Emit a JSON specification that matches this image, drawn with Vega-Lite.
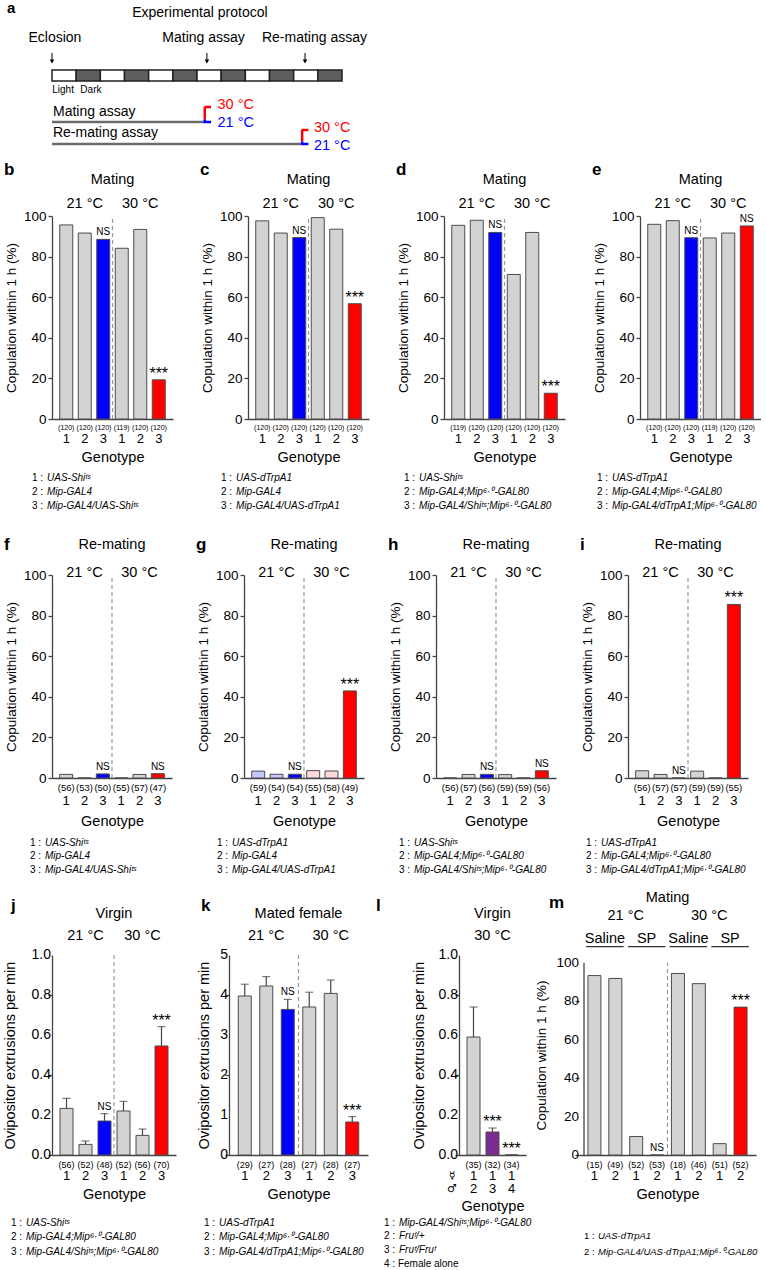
{
"$schema": "https://vega.github.io/schema/vega-lite/v6.json",
"background": "white",
"padding": {"left": 2, "top": 1, "right": 0, "bottom": 0},
"config": {
 "font": "Liberation Sans",
 "view": {"stroke": null},
 "axis": {"grid": false, "domainColor": "#444444", "tickColor": "#444444", "domainWidth": 1.3, "tickWidth": 1.3, "labelColor": "#000000", "titleColor": "#000000", "titleFontWeight": "normal", "labelFlush": false, "labelOverlap": false, "labelFont": "Liberation Sans", "titleFont": "Liberation Sans"},
 "axisX": {"ticks": false, "tickSize": 0, "labels": false, "titleFontSize": 14.5},
 "axisY": {"tickSize": 4, "labelPadding": 2, "titleFontSize": 13.5, "labelFontSize": 13.5},
 "style": {
  "hdr": {"fontSize": 14.5, "align": "center", "baseline": "middle"},
  "let": {"fontSize": 17, "fontWeight": "bold", "align": "left", "baseline": "alphabetic"},
  "ns": {"fontSize": 10, "align": "center", "baseline": "alphabetic", "dy": -4},
  "star": {"fontSize": 16, "align": "center", "baseline": "alphabetic", "dy": -1},
  "n1": {"fontSize": 7, "align": "center", "baseline": "middle", "dy": 8.5},
  "n2": {"fontSize": 9.5, "align": "center", "baseline": "middle", "dy": 9.5},
  "n3": {"fontSize": 9, "align": "center", "baseline": "middle", "dy": 9.5},
  "gx": {"fontSize": 13, "align": "center", "baseline": "top"},
  "yl": {"fontSize": 14, "align": "right", "baseline": "middle", "dx": -6},
  "lg": {"fontSize": 10, "align": "left", "baseline": "top"},
  "lgi": {"fontSize": 10, "align": "left", "baseline": "top", "fontStyle": "italic"}
 }
},
"datasets": {
 "bars": [
  {"p":"b","x":1,"gl":1,"v":95.6,"hi":95.6,"n":"(120)","c":"g","s":""},
  {"p":"b","x":2,"gl":2,"v":91.6,"hi":91.6,"n":"(120)","c":"g","s":""},
  {"p":"b","x":3,"gl":3,"v":88.5,"hi":88.5,"n":"(120)","c":"b","s":"NS"},
  {"p":"b","x":4,"gl":1,"v":84.1,"hi":84.1,"n":"(119)","c":"g","s":""},
  {"p":"b","x":5,"gl":2,"v":93.4,"hi":93.4,"n":"(120)","c":"g","s":""},
  {"p":"b","x":6,"gl":3,"v":19.3,"hi":19.3,"n":"(120)","c":"r","s":"***"},
  {"p":"c","x":1,"gl":1,"v":97.6,"hi":97.6,"n":"(120)","c":"g","s":""},
  {"p":"c","x":2,"gl":2,"v":91.6,"hi":91.6,"n":"(120)","c":"g","s":""},
  {"p":"c","x":3,"gl":3,"v":89.4,"hi":89.4,"n":"(120)","c":"b","s":"NS"},
  {"p":"c","x":4,"gl":1,"v":99.2,"hi":99.2,"n":"(120)","c":"g","s":""},
  {"p":"c","x":5,"gl":2,"v":93.5,"hi":93.5,"n":"(120)","c":"g","s":""},
  {"p":"c","x":6,"gl":3,"v":56.8,"hi":56.8,"n":"(120)","c":"r","s":"***"},
  {"p":"d","x":1,"gl":1,"v":95.4,"hi":95.4,"n":"(119)","c":"g","s":""},
  {"p":"d","x":2,"gl":2,"v":97.9,"hi":97.9,"n":"(120)","c":"g","s":""},
  {"p":"d","x":3,"gl":3,"v":91.9,"hi":91.9,"n":"(120)","c":"b","s":"NS"},
  {"p":"d","x":4,"gl":1,"v":71.2,"hi":71.2,"n":"(120)","c":"g","s":""},
  {"p":"d","x":5,"gl":2,"v":91.9,"hi":91.9,"n":"(120)","c":"g","s":""},
  {"p":"d","x":6,"gl":3,"v":12.7,"hi":12.7,"n":"(120)","c":"r","s":"***"},
  {"p":"e","x":1,"gl":1,"v":95.9,"hi":95.9,"n":"(120)","c":"g","s":""},
  {"p":"e","x":2,"gl":2,"v":97.7,"hi":97.7,"n":"(120)","c":"g","s":""},
  {"p":"e","x":3,"gl":3,"v":89.3,"hi":89.3,"n":"(120)","c":"b","s":"NS"},
  {"p":"e","x":4,"gl":1,"v":89.2,"hi":89.2,"n":"(119)","c":"g","s":""},
  {"p":"e","x":5,"gl":2,"v":91.6,"hi":91.6,"n":"(120)","c":"g","s":""},
  {"p":"e","x":6,"gl":3,"v":95.1,"hi":95.1,"n":"(120)","c":"r","s":"NS"},
  {"p":"f","x":1,"gl":1,"v":1.79,"hi":1.79,"n":"(56)","c":"g","s":""},
  {"p":"f","x":2,"gl":2,"v":0,"hi":0,"n":"(53)","c":"g","s":""},
  {"p":"f","x":3,"gl":3,"v":2.0,"hi":2.0,"n":"(50)","c":"b","s":"NS"},
  {"p":"f","x":4,"gl":1,"v":0,"hi":0,"n":"(55)","c":"g","s":""},
  {"p":"f","x":5,"gl":2,"v":1.75,"hi":1.75,"n":"(57)","c":"g","s":""},
  {"p":"f","x":6,"gl":3,"v":2.13,"hi":2.13,"n":"(47)","c":"r","s":"NS"},
  {"p":"g","x":1,"gl":1,"v":3.39,"hi":3.39,"n":"(59)","c":"lb","s":""},
  {"p":"g","x":2,"gl":2,"v":1.85,"hi":1.85,"n":"(54)","c":"lb","s":""},
  {"p":"g","x":3,"gl":3,"v":1.85,"hi":1.85,"n":"(54)","c":"b","s":"NS"},
  {"p":"g","x":4,"gl":1,"v":3.64,"hi":3.64,"n":"(55)","c":"lp","s":""},
  {"p":"g","x":5,"gl":2,"v":3.45,"hi":3.45,"n":"(58)","c":"lp","s":""},
  {"p":"g","x":6,"gl":3,"v":42.9,"hi":42.9,"n":"(49)","c":"r","s":"***"},
  {"p":"h","x":1,"gl":1,"v":0,"hi":0,"n":"(56)","c":"g","s":""},
  {"p":"h","x":2,"gl":2,"v":1.75,"hi":1.75,"n":"(57)","c":"g","s":""},
  {"p":"h","x":3,"gl":3,"v":1.79,"hi":1.79,"n":"(56)","c":"b","s":"NS"},
  {"p":"h","x":4,"gl":1,"v":1.69,"hi":1.69,"n":"(59)","c":"g","s":""},
  {"p":"h","x":5,"gl":2,"v":0,"hi":0,"n":"(59)","c":"g","s":""},
  {"p":"h","x":6,"gl":3,"v":3.57,"hi":3.57,"n":"(56)","c":"r","s":"NS"},
  {"p":"i","x":1,"gl":1,"v":3.57,"hi":3.57,"n":"(56)","c":"g","s":""},
  {"p":"i","x":2,"gl":2,"v":1.75,"hi":1.75,"n":"(57)","c":"g","s":""},
  {"p":"i","x":3,"gl":3,"v":0,"hi":0,"n":"(57)","c":"b","s":"NS"},
  {"p":"i","x":4,"gl":1,"v":3.39,"hi":3.39,"n":"(59)","c":"g","s":""},
  {"p":"i","x":5,"gl":2,"v":0,"hi":0,"n":"(59)","c":"g","s":""},
  {"p":"i","x":6,"gl":3,"v":85.5,"hi":85.5,"n":"(55)","c":"r","s":"***"},
  {"p":"j","x":1,"gl":1,"v":0.233,"hi":0.283,"n":"(56)","c":"g","s":""},
  {"p":"j","x":2,"gl":2,"v":0.053,"hi":0.07,"n":"(52)","c":"g","s":""},
  {"p":"j","x":3,"gl":3,"v":0.17,"hi":0.207,"n":"(48)","c":"b","s":"NS"},
  {"p":"j","x":4,"gl":1,"v":0.22,"hi":0.268,"n":"(52)","c":"g","s":""},
  {"p":"j","x":5,"gl":2,"v":0.098,"hi":0.13,"n":"(56)","c":"g","s":""},
  {"p":"j","x":6,"gl":3,"v":0.545,"hi":0.642,"n":"(70)","c":"r","s":"***"},
  {"p":"k","x":1,"gl":1,"v":3.975,"hi":4.27,"n":"(29)","c":"g","s":""},
  {"p":"k","x":2,"gl":2,"v":4.225,"hi":4.46,"n":"(27)","c":"g","s":""},
  {"p":"k","x":3,"gl":3,"v":3.64,"hi":3.89,"n":"(28)","c":"b","s":"NS"},
  {"p":"k","x":4,"gl":1,"v":3.7,"hi":4.07,"n":"(27)","c":"g","s":""},
  {"p":"k","x":5,"gl":2,"v":4.04,"hi":4.375,"n":"(28)","c":"g","s":""},
  {"p":"k","x":6,"gl":3,"v":0.825,"hi":0.96,"n":"(27)","c":"r","s":"***"},
  {"p":"l","x":1,"gl":["1","2"],"v":0.59,"hi":0.74,"n":"(35)","c":"g","s":""},
  {"p":"l","x":2,"gl":["1","3"],"v":0.115,"hi":0.135,"n":"(32)","c":"pu","s":"***"},
  {"p":"l","x":3,"gl":["1","4"],"v":0,"hi":0,"n":"(34)","c":"g","s":"***"},
  {"p":"m","x":1,"gl":1,"v":93.3,"hi":93.3,"n":"(15)","c":"g","s":""},
  {"p":"m","x":2,"gl":2,"v":91.8,"hi":91.8,"n":"(49)","c":"g","s":""},
  {"p":"m","x":3,"gl":1,"v":9.6,"hi":9.6,"n":"(52)","c":"g","s":""},
  {"p":"m","x":4,"gl":2,"v":0,"hi":0,"n":"(53)","c":"g","s":"NS"},
  {"p":"m","x":5,"gl":1,"v":94.4,"hi":94.4,"n":"(18)","c":"g","s":""},
  {"p":"m","x":6,"gl":2,"v":89.1,"hi":89.1,"n":"(46)","c":"g","s":""},
  {"p":"m","x":7,"gl":1,"v":5.9,"hi":5.9,"n":"(51)","c":"g","s":""},
  {"p":"m","x":8,"gl":2,"v":76.9,"hi":76.9,"n":"(52)","c":"r","s":"***"}
 ]
},
"spacing": 25,
"vconcat": [
 {"spacing": 8, "vconcat": [
  {"width": 290, "height": 90, "layer": [
   {"data": {"values": [{"s":0,"e":1,"c":"L"},{"s":1,"e":2,"c":"D"},{"s":2,"e":3,"c":"L"},{"s":3,"e":4,"c":"D"},{"s":4,"e":5,"c":"L"},{"s":5,"e":6,"c":"D"},{"s":6,"e":7,"c":"L"},{"s":7,"e":8,"c":"D"},{"s":8,"e":9,"c":"L"},{"s":9,"e":10,"c":"D"},{"s":10,"e":11,"c":"L"},{"s":11,"e":12,"c":"D"}]},
    "mark": {"type": "rect", "stroke": "#222222", "strokeWidth": 1.5},
    "encoding": {"x": {"field": "s", "type": "quantitative", "scale": {"domain": [0,12], "nice": false, "zero": false}, "axis": null}, "x2": {"field": "e"}, "y": {"datum": 7.2, "scale": {"domain": [0,9], "nice": false, "zero": false}, "axis": null}, "y2": {"datum": 8.3},
     "color": {"field": "c", "type": "nominal", "scale": {"domain": ["g","b","r","lb","lp","pu","L","D","ln"], "range": ["#d3d3d3","#0000ff","#ff0000","#c3c6ff","#ffdada","#7c2b93","#ffffff","#5e5e5e","#6b6b6b"]}, "legend": null}}},
   {"data": {"values": [{"x":0,"x2":6.3,"y":3.1,"c":"ln"},{"x":0,"x2":10.33,"y":0.9,"c":"ln"},{"x":6.3,"x2":6.58,"y":4.6,"c":"r"},{"x":6.3,"x2":6.58,"y":3.1,"c":"b"},{"x":10.33,"x2":10.61,"y":2.3,"c":"r"},{"x":10.33,"x2":10.61,"y":0.9,"c":"b"}]},
    "mark": {"type": "rule", "strokeWidth": 2.5},
    "encoding": {"x": {"field": "x", "type": "quantitative", "scale": {"domain": [0,12], "nice": false, "zero": false}, "axis": null}, "x2": {"field": "x2"}, "y": {"field": "y", "type": "quantitative", "scale": {"domain": [0,9], "nice": false, "zero": false}, "axis": null},
     "color": {"field": "c", "type": "nominal", "scale": {"domain": ["g","b","r","lb","lp","pu","L","D","ln"], "range": ["#d3d3d3","#0000ff","#ff0000","#c3c6ff","#ffdada","#7c2b93","#ffffff","#5e5e5e","#6b6b6b"]}, "legend": null}}},
   {"data": {"values": [{"x":6.32,"y":3.35,"y2":4.6,"c":"r"},{"x":6.32,"y":3.0,"y2":3.35,"c":"b"},{"x":10.35,"y":1.15,"y2":2.3,"c":"r"},{"x":10.35,"y":0.8,"y2":1.15,"c":"b"}]},
    "mark": {"type": "rule", "strokeWidth": 2.5},
    "encoding": {"x": {"field": "x", "type": "quantitative", "scale": {"domain": [0,12], "nice": false, "zero": false}, "axis": null}, "y": {"field": "y", "type": "quantitative", "scale": {"domain": [0,9], "nice": false, "zero": false}, "axis": null}, "y2": {"field": "y2"},
     "color": {"field": "c", "type": "nominal", "scale": {"domain": ["g","b","r","lb","lp","pu","L","D","ln"], "range": ["#d3d3d3","#0000ff","#ff0000","#c3c6ff","#ffdada","#7c2b93","#ffffff","#5e5e5e","#6b6b6b"]}, "legend": null}}},
   {"data": {"values": [{"x":0},{"x":6.41},{"x":10.47}]},
    "mark": {"type": "rule", "color": "#000000", "strokeWidth": 1},
    "encoding": {"x": {"field": "x", "type": "quantitative", "scale": {"domain": [0,12], "nice": false, "zero": false}, "axis": null}, "y": {"datum": 10.0, "scale": {"domain": [0,9], "nice": false, "zero": false}, "axis": null}, "y2": {"datum": 9.1}}},
   {"data": {"values": [{"x":0},{"x":6.41},{"x":10.47}]},
    "mark": {"type": "point", "shape": "triangle-down", "filled": true, "size": 22, "color": "#000000", "opacity": 1},
    "encoding": {"x": {"field": "x", "type": "quantitative", "scale": {"domain": [0,12], "nice": false, "zero": false}, "axis": null}, "y": {"datum": 9.15, "scale": {"domain": [0,9], "nice": false, "zero": false}, "axis": null}}},
   {"data": {"values": [{"x":6.12,"y":14.0,"t":"Experimental protocol"},{"x":0.12,"y":11.5,"t":"Eclosion"},{"x":6.27,"y":11.5,"t":"Mating assay"},{"x":10.86,"y":11.5,"t":"Re-mating assay"}]},
    "mark": {"type": "text", "fontSize": 14, "align": "center", "baseline": "middle"},
    "encoding": {"x": {"field": "x", "type": "quantitative", "scale": {"domain": [0,12], "nice": false, "zero": false}, "axis": null}, "y": {"field": "y", "type": "quantitative", "scale": {"domain": [0,9], "nice": false, "zero": false}, "axis": null}, "text": {"field": "t", "type": "nominal"}}},
   {"data": {"values": [{"x":0.46,"y":6.3,"t":"Light"},{"x":1.61,"y":6.3,"t":"Dark"}]},
    "mark": {"type": "text", "fontSize": 10, "align": "center", "baseline": "middle"},
    "encoding": {"x": {"field": "x", "type": "quantitative", "scale": {"domain": [0,12], "nice": false, "zero": false}, "axis": null}, "y": {"field": "y", "type": "quantitative", "scale": {"domain": [0,9], "nice": false, "zero": false}, "axis": null}, "text": {"field": "t", "type": "nominal"}}},
   {"data": {"values": [{"x":0.04,"y":4.1,"t":"Mating assay"},{"x":0.04,"y":2.0,"t":"Re-mating assay"}]},
    "mark": {"type": "text", "fontSize": 14, "align": "left", "baseline": "middle"},
    "encoding": {"x": {"field": "x", "type": "quantitative", "scale": {"domain": [0,12], "nice": false, "zero": false}, "axis": null}, "y": {"field": "y", "type": "quantitative", "scale": {"domain": [0,9], "nice": false, "zero": false}, "axis": null}, "text": {"field": "t", "type": "nominal"}}},
   {"data": {"values": [{"x":6.85,"y":4.8,"t":"30 °C","c":"r"},{"x":6.85,"y":3.05,"t":"21 °C","c":"b"},{"x":10.84,"y":2.5,"t":"30 °C","c":"r"},{"x":10.84,"y":0.7,"t":"21 °C","c":"b"}]},
    "mark": {"type": "text", "fontSize": 14.5, "align": "left", "baseline": "middle"},
    "encoding": {"x": {"field": "x", "type": "quantitative", "scale": {"domain": [0,12], "nice": false, "zero": false}, "axis": null}, "y": {"field": "y", "type": "quantitative", "scale": {"domain": [0,9], "nice": false, "zero": false}, "axis": null}, "text": {"field": "t", "type": "nominal"},
     "color": {"field": "c", "type": "nominal", "scale": {"domain": ["g","b","r","lb","lp","pu","L","D","ln"], "range": ["#d3d3d3","#0000ff","#ff0000","#c3c6ff","#ffdada","#7c2b93","#ffffff","#5e5e5e","#6b6b6b"]}, "legend": null}}},
   {"data": {"values": [{"x":-1.86,"y":14.0,"t":"a"}]},
    "mark": {"type": "text", "style": "let", "fontSize": 15},
    "encoding": {"x": {"field": "x", "type": "quantitative", "scale": {"domain": [0,12], "nice": false, "zero": false}, "axis": null}, "y": {"field": "y", "type": "quantitative", "scale": {"domain": [0,9], "nice": false, "zero": false}, "axis": null}, "text": {"field": "t", "type": "nominal"}}}
  ]},
  {"hconcat": [
   {"width":121,"height":203,"layer":[
    {"data":{"values":[{"x":3.5}]},"mark":{"type":"rule","strokeDash":[4,3],"color":"#999999","strokeWidth":1.2},"encoding":{"x":{"field":"x","type":"quantitative","scale":{"domain":[0.5,6.5],"nice":false,"zero":false}},"y":{"datum":0,"scale":{"domain":[0,100],"nice":false,"zero":false}},"y2":{"datum":100}}},
    {"data":{"name":"bars"},"transform":[{"filter":"datum.p=='b'"}],"encoding":{"x":{"field":"x","type":"quantitative","scale":{"domain":[0.5,6.5],"nice":false,"zero":false},"axis":{"title":"Genotype","titlePadding":31.5}}},"layer":[
     {"mark":{"type":"bar","orient":"vertical","size":13,"stroke":"#4d4d4d","strokeWidth":1},"encoding":{"y":{"field":"v","type":"quantitative","scale":{"domain":[0,100],"nice":false,"zero":false},"axis":{"values":[0,20,40,60,80,100],"title":"Copulation within 1 h (%)","titlePadding":5}},"color":{"field":"c","type":"nominal","scale":{"domain":["g","b","r","lb","lp","pu","L","D","ln"],"range":["#d3d3d3","#0000ff","#ff0000","#c3c6ff","#ffdada","#7c2b93","#ffffff","#5e5e5e","#6b6b6b"]},"legend":null}}},
     {"transform":[{"filter":"datum.s=='NS'"}],"mark":{"type":"text","style":"ns"},"encoding":{"y":{"field":"hi","type":"quantitative","scale":{"domain":[0,100],"nice":false,"zero":false}},"text":{"field":"s","type":"nominal"}}},
     {"transform":[{"filter":"datum.s=='***'"}],"mark":{"type":"text","style":"star"},"encoding":{"y":{"field":"hi","type":"quantitative","scale":{"domain":[0,100],"nice":false,"zero":false}},"text":{"field":"s","type":"nominal"}}},
     {"mark":{"type":"text","style":"n1"},"encoding":{"y":{"datum":0,"scale":{"domain":[0,100],"nice":false,"zero":false}},"text":{"field":"n","type":"nominal"}}},
     {"mark":{"type":"text","style":"gx","dy":14},"encoding":{"y":{"datum":0,"scale":{"domain":[0,100],"nice":false,"zero":false}},"text":{"field":"gl","type":"nominal"}}}
    ]},
    {"data":{"values":[{"x":2,"t":"21 °C"},{"x":5,"t":"30 °C"}]},"mark":{"type":"text","style":"hdr","dy":-12},"encoding":{"x":{"field":"x","type":"quantitative","scale":{"domain":[0.5,6.5],"nice":false,"zero":false}},"y":{"datum":100,"scale":{"domain":[0,100],"nice":false,"zero":false}},"text":{"field":"t","type":"nominal"}}},
    {"data":{"values":[{"x":3.5,"t":"Mating"}]},"mark":{"type":"text","style":"hdr","dy":-36},"encoding":{"x":{"field":"x","type":"quantitative","scale":{"domain":[0.5,6.5],"nice":false,"zero":false}},"y":{"datum":100,"scale":{"domain":[0,100],"nice":false,"zero":false}},"text":{"field":"t","type":"nominal"}}},
    {"data":{"values":[{"t":"b"}]},"mark":{"type":"text","style":"let","dx":-53,"dy":-41},"encoding":{"x":{"datum":0.5,"scale":{"domain":[0.5,6.5],"nice":false,"zero":false}},"y":{"datum":100,"scale":{"domain":[0,100],"nice":false,"zero":false}},"text":{"field":"t","type":"nominal"}}},
    {"data":{"values":[{"a":["1 :","2 :","3 :"],"b":["UAS-Shiᵗˢ","Mip-GAL4","Mip-GAL4/UAS-Shiᵗˢ"]}]},"encoding":{"x":{"datum":0.5,"scale":{"domain":[0.5,6.5],"nice":false,"zero":false}},"y":{"datum":0,"scale":{"domain":[0,100],"nice":false,"zero":false}}},"layer":[
     {"mark":{"type":"text","style":"lg","dx":-25,"dy":53.5,"lineHeight":14},"encoding":{"text":{"field":"a","type":"nominal"}}},
     {"mark":{"type":"text","style":"lgi","dx":-10,"dy":53.5,"lineHeight":14},"encoding":{"text":{"field":"b","type":"nominal"}}}
    ]}
   ]},
   {"width":121,"height":203,"layer":[
    {"data":{"values":[{"x":3.5}]},"mark":{"type":"rule","strokeDash":[4,3],"color":"#999999","strokeWidth":1.2},"encoding":{"x":{"field":"x","type":"quantitative","scale":{"domain":[0.5,6.5],"nice":false,"zero":false}},"y":{"datum":0,"scale":{"domain":[0,100],"nice":false,"zero":false}},"y2":{"datum":100}}},
    {"data":{"name":"bars"},"transform":[{"filter":"datum.p=='c'"}],"encoding":{"x":{"field":"x","type":"quantitative","scale":{"domain":[0.5,6.5],"nice":false,"zero":false},"axis":{"title":"Genotype","titlePadding":31.5}}},"layer":[
     {"mark":{"type":"bar","orient":"vertical","size":13,"stroke":"#4d4d4d","strokeWidth":1},"encoding":{"y":{"field":"v","type":"quantitative","scale":{"domain":[0,100],"nice":false,"zero":false},"axis":{"values":[0,20,40,60,80,100],"title":"Copulation within 1 h (%)","titlePadding":5}},"color":{"field":"c","type":"nominal","scale":{"domain":["g","b","r","lb","lp","pu","L","D","ln"],"range":["#d3d3d3","#0000ff","#ff0000","#c3c6ff","#ffdada","#7c2b93","#ffffff","#5e5e5e","#6b6b6b"]},"legend":null}}},
     {"transform":[{"filter":"datum.s=='NS'"}],"mark":{"type":"text","style":"ns"},"encoding":{"y":{"field":"hi","type":"quantitative","scale":{"domain":[0,100],"nice":false,"zero":false}},"text":{"field":"s","type":"nominal"}}},
     {"transform":[{"filter":"datum.s=='***'"}],"mark":{"type":"text","style":"star"},"encoding":{"y":{"field":"hi","type":"quantitative","scale":{"domain":[0,100],"nice":false,"zero":false}},"text":{"field":"s","type":"nominal"}}},
     {"mark":{"type":"text","style":"n1"},"encoding":{"y":{"datum":0,"scale":{"domain":[0,100],"nice":false,"zero":false}},"text":{"field":"n","type":"nominal"}}},
     {"mark":{"type":"text","style":"gx","dy":14},"encoding":{"y":{"datum":0,"scale":{"domain":[0,100],"nice":false,"zero":false}},"text":{"field":"gl","type":"nominal"}}}
    ]},
    {"data":{"values":[{"x":2,"t":"21 °C"},{"x":5,"t":"30 °C"}]},"mark":{"type":"text","style":"hdr","dy":-12},"encoding":{"x":{"field":"x","type":"quantitative","scale":{"domain":[0.5,6.5],"nice":false,"zero":false}},"y":{"datum":100,"scale":{"domain":[0,100],"nice":false,"zero":false}},"text":{"field":"t","type":"nominal"}}},
    {"data":{"values":[{"x":3.5,"t":"Mating"}]},"mark":{"type":"text","style":"hdr","dy":-36},"encoding":{"x":{"field":"x","type":"quantitative","scale":{"domain":[0.5,6.5],"nice":false,"zero":false}},"y":{"datum":100,"scale":{"domain":[0,100],"nice":false,"zero":false}},"text":{"field":"t","type":"nominal"}}},
    {"data":{"values":[{"t":"c"}]},"mark":{"type":"text","style":"let","dx":-53,"dy":-41},"encoding":{"x":{"datum":0.5,"scale":{"domain":[0.5,6.5],"nice":false,"zero":false}},"y":{"datum":100,"scale":{"domain":[0,100],"nice":false,"zero":false}},"text":{"field":"t","type":"nominal"}}},
    {"data":{"values":[{"a":["1 :","2 :","3 :"],"b":["UAS-dTrpA1","Mip-GAL4","Mip-GAL4/UAS-dTrpA1"]}]},"encoding":{"x":{"datum":0.5,"scale":{"domain":[0.5,6.5],"nice":false,"zero":false}},"y":{"datum":0,"scale":{"domain":[0,100],"nice":false,"zero":false}}},"layer":[
     {"mark":{"type":"text","style":"lg","dx":-32,"dy":53.5,"lineHeight":14},"encoding":{"text":{"field":"a","type":"nominal"}}},
     {"mark":{"type":"text","style":"lgi","dx":-17,"dy":53.5,"lineHeight":14},"encoding":{"text":{"field":"b","type":"nominal"}}}
    ]}
   ]},
   {"width":121,"height":203,"layer":[
    {"data":{"values":[{"x":3.5}]},"mark":{"type":"rule","strokeDash":[4,3],"color":"#999999","strokeWidth":1.2},"encoding":{"x":{"field":"x","type":"quantitative","scale":{"domain":[0.5,6.5],"nice":false,"zero":false}},"y":{"datum":0,"scale":{"domain":[0,100],"nice":false,"zero":false}},"y2":{"datum":100}}},
    {"data":{"name":"bars"},"transform":[{"filter":"datum.p=='d'"}],"encoding":{"x":{"field":"x","type":"quantitative","scale":{"domain":[0.5,6.5],"nice":false,"zero":false},"axis":{"title":"Genotype","titlePadding":31.5}}},"layer":[
     {"mark":{"type":"bar","orient":"vertical","size":13,"stroke":"#4d4d4d","strokeWidth":1},"encoding":{"y":{"field":"v","type":"quantitative","scale":{"domain":[0,100],"nice":false,"zero":false},"axis":{"values":[0,20,40,60,80,100],"title":"Copulation within 1 h (%)","titlePadding":5}},"color":{"field":"c","type":"nominal","scale":{"domain":["g","b","r","lb","lp","pu","L","D","ln"],"range":["#d3d3d3","#0000ff","#ff0000","#c3c6ff","#ffdada","#7c2b93","#ffffff","#5e5e5e","#6b6b6b"]},"legend":null}}},
     {"transform":[{"filter":"datum.s=='NS'"}],"mark":{"type":"text","style":"ns"},"encoding":{"y":{"field":"hi","type":"quantitative","scale":{"domain":[0,100],"nice":false,"zero":false}},"text":{"field":"s","type":"nominal"}}},
     {"transform":[{"filter":"datum.s=='***'"}],"mark":{"type":"text","style":"star"},"encoding":{"y":{"field":"hi","type":"quantitative","scale":{"domain":[0,100],"nice":false,"zero":false}},"text":{"field":"s","type":"nominal"}}},
     {"mark":{"type":"text","style":"n1"},"encoding":{"y":{"datum":0,"scale":{"domain":[0,100],"nice":false,"zero":false}},"text":{"field":"n","type":"nominal"}}},
     {"mark":{"type":"text","style":"gx","dy":14},"encoding":{"y":{"datum":0,"scale":{"domain":[0,100],"nice":false,"zero":false}},"text":{"field":"gl","type":"nominal"}}}
    ]},
    {"data":{"values":[{"x":2,"t":"21 °C"},{"x":5,"t":"30 °C"}]},"mark":{"type":"text","style":"hdr","dy":-12},"encoding":{"x":{"field":"x","type":"quantitative","scale":{"domain":[0.5,6.5],"nice":false,"zero":false}},"y":{"datum":100,"scale":{"domain":[0,100],"nice":false,"zero":false}},"text":{"field":"t","type":"nominal"}}},
    {"data":{"values":[{"x":3.5,"t":"Mating"}]},"mark":{"type":"text","style":"hdr","dy":-36},"encoding":{"x":{"field":"x","type":"quantitative","scale":{"domain":[0.5,6.5],"nice":false,"zero":false}},"y":{"datum":100,"scale":{"domain":[0,100],"nice":false,"zero":false}},"text":{"field":"t","type":"nominal"}}},
    {"data":{"values":[{"t":"d"}]},"mark":{"type":"text","style":"let","dx":-53,"dy":-41},"encoding":{"x":{"datum":0.5,"scale":{"domain":[0.5,6.5],"nice":false,"zero":false}},"y":{"datum":100,"scale":{"domain":[0,100],"nice":false,"zero":false}},"text":{"field":"t","type":"nominal"}}},
    {"data":{"values":[{"a":["1 :","2 :","3 :"],"b":["UAS-Shiᵗˢ","Mip-GAL4;Mip⁶·⁰-GAL80","Mip-GAL4/Shiᵗˢ;Mip⁶·⁰-GAL80"]}]},"encoding":{"x":{"datum":0.5,"scale":{"domain":[0.5,6.5],"nice":false,"zero":false}},"y":{"datum":0,"scale":{"domain":[0,100],"nice":false,"zero":false}}},"layer":[
     {"mark":{"type":"text","style":"lg","dx":-45,"dy":53.5,"lineHeight":14},"encoding":{"text":{"field":"a","type":"nominal"}}},
     {"mark":{"type":"text","style":"lgi","dx":-30,"dy":53.5,"lineHeight":14},"encoding":{"text":{"field":"b","type":"nominal"}}}
    ]}
   ]},
   {"width":121,"height":203,"layer":[
    {"data":{"values":[{"x":3.5}]},"mark":{"type":"rule","strokeDash":[4,3],"color":"#999999","strokeWidth":1.2},"encoding":{"x":{"field":"x","type":"quantitative","scale":{"domain":[0.5,6.5],"nice":false,"zero":false}},"y":{"datum":0,"scale":{"domain":[0,100],"nice":false,"zero":false}},"y2":{"datum":100}}},
    {"data":{"name":"bars"},"transform":[{"filter":"datum.p=='e'"}],"encoding":{"x":{"field":"x","type":"quantitative","scale":{"domain":[0.5,6.5],"nice":false,"zero":false},"axis":{"title":"Genotype","titlePadding":31.5}}},"layer":[
     {"mark":{"type":"bar","orient":"vertical","size":13,"stroke":"#4d4d4d","strokeWidth":1},"encoding":{"y":{"field":"v","type":"quantitative","scale":{"domain":[0,100],"nice":false,"zero":false},"axis":{"values":[0,20,40,60,80,100],"title":"Copulation within 1 h (%)","titlePadding":5}},"color":{"field":"c","type":"nominal","scale":{"domain":["g","b","r","lb","lp","pu","L","D","ln"],"range":["#d3d3d3","#0000ff","#ff0000","#c3c6ff","#ffdada","#7c2b93","#ffffff","#5e5e5e","#6b6b6b"]},"legend":null}}},
     {"transform":[{"filter":"datum.s=='NS'"}],"mark":{"type":"text","style":"ns"},"encoding":{"y":{"field":"hi","type":"quantitative","scale":{"domain":[0,100],"nice":false,"zero":false}},"text":{"field":"s","type":"nominal"}}},
     {"transform":[{"filter":"datum.s=='***'"}],"mark":{"type":"text","style":"star"},"encoding":{"y":{"field":"hi","type":"quantitative","scale":{"domain":[0,100],"nice":false,"zero":false}},"text":{"field":"s","type":"nominal"}}},
     {"mark":{"type":"text","style":"n1"},"encoding":{"y":{"datum":0,"scale":{"domain":[0,100],"nice":false,"zero":false}},"text":{"field":"n","type":"nominal"}}},
     {"mark":{"type":"text","style":"gx","dy":14},"encoding":{"y":{"datum":0,"scale":{"domain":[0,100],"nice":false,"zero":false}},"text":{"field":"gl","type":"nominal"}}}
    ]},
    {"data":{"values":[{"x":2,"t":"21 °C"},{"x":5,"t":"30 °C"}]},"mark":{"type":"text","style":"hdr","dy":-12},"encoding":{"x":{"field":"x","type":"quantitative","scale":{"domain":[0.5,6.5],"nice":false,"zero":false}},"y":{"datum":100,"scale":{"domain":[0,100],"nice":false,"zero":false}},"text":{"field":"t","type":"nominal"}}},
    {"data":{"values":[{"x":3.5,"t":"Mating"}]},"mark":{"type":"text","style":"hdr","dy":-36},"encoding":{"x":{"field":"x","type":"quantitative","scale":{"domain":[0.5,6.5],"nice":false,"zero":false}},"y":{"datum":100,"scale":{"domain":[0,100],"nice":false,"zero":false}},"text":{"field":"t","type":"nominal"}}},
    {"data":{"values":[{"t":"e"}]},"mark":{"type":"text","style":"let","dx":-53,"dy":-41},"encoding":{"x":{"datum":0.5,"scale":{"domain":[0.5,6.5],"nice":false,"zero":false}},"y":{"datum":100,"scale":{"domain":[0,100],"nice":false,"zero":false}},"text":{"field":"t","type":"nominal"}}},
    {"data":{"values":[{"a":["1 :","2 :","3 :"],"b":["UAS-dTrpA1","Mip-GAL4;Mip⁶·⁰-GAL80","Mip-GAL4/dTrpA1;Mip⁶·⁰-GAL80"]}]},"encoding":{"x":{"datum":0.5,"scale":{"domain":[0.5,6.5],"nice":false,"zero":false}},"y":{"datum":0,"scale":{"domain":[0,100],"nice":false,"zero":false}}},"layer":[
     {"mark":{"type":"text","style":"lg","dx":-48,"dy":53.5,"lineHeight":14},"encoding":{"text":{"field":"a","type":"nominal"}}},
     {"mark":{"type":"text","style":"lgi","dx":-33,"dy":53.5,"lineHeight":14},"encoding":{"text":{"field":"b","type":"nominal"}}}
    ]}
   ]}
  ], "spacing": 75, "bounds": "flush"}
 ]},
 {"spacing": 14, "vconcat": [
 {"hconcat": [
  {"width":120,"height":203,"layer":[
   {"data":{"values":[{"x":3.5}]},"mark":{"type":"rule","strokeDash":[4,3],"color":"#999999","strokeWidth":1.2},"encoding":{"x":{"field":"x","type":"quantitative","scale":{"domain":[0.5,6.5],"nice":false,"zero":false}},"y":{"datum":0,"scale":{"domain":[0,100],"nice":false,"zero":false}},"y2":{"datum":100}}},
   {"data":{"name":"bars"},"transform":[{"filter":"datum.p=='f'"}],"encoding":{"x":{"field":"x","type":"quantitative","scale":{"domain":[0.5,6.5],"nice":false,"zero":false},"axis":{"title":"Genotype","titlePadding":36.5}}},"layer":[
    {"mark":{"type":"bar","orient":"vertical","size":13,"stroke":"#4d4d4d","strokeWidth":1},"encoding":{"y":{"field":"v","type":"quantitative","scale":{"domain":[0,100],"nice":false,"zero":false},"axis":{"values":[0,20,40,60,80,100],"title":"Copulation within 1 h (%)","titlePadding":5}},"color":{"field":"c","type":"nominal","scale":{"domain":["g","b","r","lb","lp","pu","L","D","ln"],"range":["#d3d3d3","#0000ff","#ff0000","#c3c6ff","#ffdada","#7c2b93","#ffffff","#5e5e5e","#6b6b6b"]},"legend":null}}},
    {"transform":[{"filter":"datum.s=='NS'"}],"mark":{"type":"text","style":"ns"},"encoding":{"y":{"field":"hi","type":"quantitative","scale":{"domain":[0,100],"nice":false,"zero":false}},"text":{"field":"s","type":"nominal"}}},
    {"transform":[{"filter":"datum.s=='***'"}],"mark":{"type":"text","style":"star"},"encoding":{"y":{"field":"hi","type":"quantitative","scale":{"domain":[0,100],"nice":false,"zero":false}},"text":{"field":"s","type":"nominal"}}},
    {"mark":{"type":"text","style":"n2"},"encoding":{"y":{"datum":0,"scale":{"domain":[0,100],"nice":false,"zero":false}},"text":{"field":"n","type":"nominal"}}},
    {"mark":{"type":"text","style":"gx","dy":17},"encoding":{"y":{"datum":0,"scale":{"domain":[0,100],"nice":false,"zero":false}},"text":{"field":"gl","type":"nominal"}}}
   ]},
   {"data":{"values":[{"x":2,"t":"21 °C"},{"x":5,"t":"30 °C"}]},"mark":{"type":"text","style":"hdr","dy":-2.5},"encoding":{"x":{"field":"x","type":"quantitative","scale":{"domain":[0.5,6.5],"nice":false,"zero":false}},"y":{"datum":100,"scale":{"domain":[0,100],"nice":false,"zero":false}},"text":{"field":"t","type":"nominal"}}},
   {"data":{"values":[{"x":3.5,"t":"Re-mating"}]},"mark":{"type":"text","style":"hdr","dy":-30.5},"encoding":{"x":{"field":"x","type":"quantitative","scale":{"domain":[0.5,6.5],"nice":false,"zero":false}},"y":{"datum":100,"scale":{"domain":[0,100],"nice":false,"zero":false}},"text":{"field":"t","type":"nominal"}}},
   {"data":{"values":[{"t":"f"}]},"mark":{"type":"text","style":"let","dx":-53,"dy":-25},"encoding":{"x":{"datum":0.5,"scale":{"domain":[0.5,6.5],"nice":false,"zero":false}},"y":{"datum":100,"scale":{"domain":[0,100],"nice":false,"zero":false}},"text":{"field":"t","type":"nominal"}}},
   {"data":{"values":[{"a":["1 :","2 :","3 :"],"b":["UAS-Shiᵗˢ","Mip-GAL4","Mip-GAL4/UAS-Shiᵗˢ"]}]},"encoding":{"x":{"datum":0.5,"scale":{"domain":[0.5,6.5],"nice":false,"zero":false}},"y":{"datum":0,"scale":{"domain":[0,100],"nice":false,"zero":false}}},"layer":[
    {"mark":{"type":"text","style":"lg","dx":-27,"dy":59.5,"lineHeight":13.5},"encoding":{"text":{"field":"a","type":"nominal"}}},
    {"mark":{"type":"text","style":"lgi","dx":-12,"dy":59.5,"lineHeight":13.5},"encoding":{"text":{"field":"b","type":"nominal"}}}
   ]}
  ]},
  {"width":120,"height":203,"layer":[
   {"data":{"values":[{"x":3.5}]},"mark":{"type":"rule","strokeDash":[4,3],"color":"#999999","strokeWidth":1.2},"encoding":{"x":{"field":"x","type":"quantitative","scale":{"domain":[0.5,6.5],"nice":false,"zero":false}},"y":{"datum":0,"scale":{"domain":[0,100],"nice":false,"zero":false}},"y2":{"datum":100}}},
   {"data":{"name":"bars"},"transform":[{"filter":"datum.p=='g'"}],"encoding":{"x":{"field":"x","type":"quantitative","scale":{"domain":[0.5,6.5],"nice":false,"zero":false},"axis":{"title":"Genotype","titlePadding":36.5}}},"layer":[
    {"mark":{"type":"bar","orient":"vertical","size":13,"stroke":"#4d4d4d","strokeWidth":1},"encoding":{"y":{"field":"v","type":"quantitative","scale":{"domain":[0,100],"nice":false,"zero":false},"axis":{"values":[0,20,40,60,80,100],"title":"Copulation within 1 h (%)","titlePadding":5}},"color":{"field":"c","type":"nominal","scale":{"domain":["g","b","r","lb","lp","pu","L","D","ln"],"range":["#d3d3d3","#0000ff","#ff0000","#c3c6ff","#ffdada","#7c2b93","#ffffff","#5e5e5e","#6b6b6b"]},"legend":null}}},
    {"transform":[{"filter":"datum.s=='NS'"}],"mark":{"type":"text","style":"ns"},"encoding":{"y":{"field":"hi","type":"quantitative","scale":{"domain":[0,100],"nice":false,"zero":false}},"text":{"field":"s","type":"nominal"}}},
    {"transform":[{"filter":"datum.s=='***'"}],"mark":{"type":"text","style":"star"},"encoding":{"y":{"field":"hi","type":"quantitative","scale":{"domain":[0,100],"nice":false,"zero":false}},"text":{"field":"s","type":"nominal"}}},
    {"mark":{"type":"text","style":"n2"},"encoding":{"y":{"datum":0,"scale":{"domain":[0,100],"nice":false,"zero":false}},"text":{"field":"n","type":"nominal"}}},
    {"mark":{"type":"text","style":"gx","dy":17},"encoding":{"y":{"datum":0,"scale":{"domain":[0,100],"nice":false,"zero":false}},"text":{"field":"gl","type":"nominal"}}}
   ]},
   {"data":{"values":[{"x":2,"t":"21 °C"},{"x":5,"t":"30 °C"}]},"mark":{"type":"text","style":"hdr","dy":-2.5},"encoding":{"x":{"field":"x","type":"quantitative","scale":{"domain":[0.5,6.5],"nice":false,"zero":false}},"y":{"datum":100,"scale":{"domain":[0,100],"nice":false,"zero":false}},"text":{"field":"t","type":"nominal"}}},
   {"data":{"values":[{"x":3.5,"t":"Re-mating"}]},"mark":{"type":"text","style":"hdr","dy":-30.5},"encoding":{"x":{"field":"x","type":"quantitative","scale":{"domain":[0.5,6.5],"nice":false,"zero":false}},"y":{"datum":100,"scale":{"domain":[0,100],"nice":false,"zero":false}},"text":{"field":"t","type":"nominal"}}},
   {"data":{"values":[{"t":"g"}]},"mark":{"type":"text","style":"let","dx":-53,"dy":-25},"encoding":{"x":{"datum":0.5,"scale":{"domain":[0.5,6.5],"nice":false,"zero":false}},"y":{"datum":100,"scale":{"domain":[0,100],"nice":false,"zero":false}},"text":{"field":"t","type":"nominal"}}},
   {"data":{"values":[{"a":["1 :","2 :","3 :"],"b":["UAS-dTrpA1","Mip-GAL4","Mip-GAL4/UAS-dTrpA1"]}]},"encoding":{"x":{"datum":0.5,"scale":{"domain":[0.5,6.5],"nice":false,"zero":false}},"y":{"datum":0,"scale":{"domain":[0,100],"nice":false,"zero":false}}},"layer":[
    {"mark":{"type":"text","style":"lg","dx":-32,"dy":59.5,"lineHeight":13.5},"encoding":{"text":{"field":"a","type":"nominal"}}},
    {"mark":{"type":"text","style":"lgi","dx":-17,"dy":59.5,"lineHeight":13.5},"encoding":{"text":{"field":"b","type":"nominal"}}}
   ]}
  ]},
  {"width":120,"height":203,"layer":[
   {"data":{"values":[{"x":3.5}]},"mark":{"type":"rule","strokeDash":[4,3],"color":"#999999","strokeWidth":1.2},"encoding":{"x":{"field":"x","type":"quantitative","scale":{"domain":[0.5,6.5],"nice":false,"zero":false}},"y":{"datum":0,"scale":{"domain":[0,100],"nice":false,"zero":false}},"y2":{"datum":100}}},
   {"data":{"name":"bars"},"transform":[{"filter":"datum.p=='h'"}],"encoding":{"x":{"field":"x","type":"quantitative","scale":{"domain":[0.5,6.5],"nice":false,"zero":false},"axis":{"title":"Genotype","titlePadding":36.5}}},"layer":[
    {"mark":{"type":"bar","orient":"vertical","size":13,"stroke":"#4d4d4d","strokeWidth":1},"encoding":{"y":{"field":"v","type":"quantitative","scale":{"domain":[0,100],"nice":false,"zero":false},"axis":{"values":[0,20,40,60,80,100],"title":"Copulation within 1 h (%)","titlePadding":5}},"color":{"field":"c","type":"nominal","scale":{"domain":["g","b","r","lb","lp","pu","L","D","ln"],"range":["#d3d3d3","#0000ff","#ff0000","#c3c6ff","#ffdada","#7c2b93","#ffffff","#5e5e5e","#6b6b6b"]},"legend":null}}},
    {"transform":[{"filter":"datum.s=='NS'"}],"mark":{"type":"text","style":"ns"},"encoding":{"y":{"field":"hi","type":"quantitative","scale":{"domain":[0,100],"nice":false,"zero":false}},"text":{"field":"s","type":"nominal"}}},
    {"transform":[{"filter":"datum.s=='***'"}],"mark":{"type":"text","style":"star"},"encoding":{"y":{"field":"hi","type":"quantitative","scale":{"domain":[0,100],"nice":false,"zero":false}},"text":{"field":"s","type":"nominal"}}},
    {"mark":{"type":"text","style":"n2"},"encoding":{"y":{"datum":0,"scale":{"domain":[0,100],"nice":false,"zero":false}},"text":{"field":"n","type":"nominal"}}},
    {"mark":{"type":"text","style":"gx","dy":17},"encoding":{"y":{"datum":0,"scale":{"domain":[0,100],"nice":false,"zero":false}},"text":{"field":"gl","type":"nominal"}}}
   ]},
   {"data":{"values":[{"x":2,"t":"21 °C"},{"x":5,"t":"30 °C"}]},"mark":{"type":"text","style":"hdr","dy":-2.5},"encoding":{"x":{"field":"x","type":"quantitative","scale":{"domain":[0.5,6.5],"nice":false,"zero":false}},"y":{"datum":100,"scale":{"domain":[0,100],"nice":false,"zero":false}},"text":{"field":"t","type":"nominal"}}},
   {"data":{"values":[{"x":3.5,"t":"Re-mating"}]},"mark":{"type":"text","style":"hdr","dy":-30.5},"encoding":{"x":{"field":"x","type":"quantitative","scale":{"domain":[0.5,6.5],"nice":false,"zero":false}},"y":{"datum":100,"scale":{"domain":[0,100],"nice":false,"zero":false}},"text":{"field":"t","type":"nominal"}}},
   {"data":{"values":[{"t":"h"}]},"mark":{"type":"text","style":"let","dx":-53,"dy":-25},"encoding":{"x":{"datum":0.5,"scale":{"domain":[0.5,6.5],"nice":false,"zero":false}},"y":{"datum":100,"scale":{"domain":[0,100],"nice":false,"zero":false}},"text":{"field":"t","type":"nominal"}}},
   {"data":{"values":[{"a":["1 :","2 :","3 :"],"b":["UAS-Shiᵗˢ","Mip-GAL4;Mip⁶·⁰-GAL80","Mip-GAL4/Shiᵗˢ;Mip⁶·⁰-GAL80"]}]},"encoding":{"x":{"datum":0.5,"scale":{"domain":[0.5,6.5],"nice":false,"zero":false}},"y":{"datum":0,"scale":{"domain":[0,100],"nice":false,"zero":false}}},"layer":[
    {"mark":{"type":"text","style":"lg","dx":-42,"dy":59.5,"lineHeight":13.5},"encoding":{"text":{"field":"a","type":"nominal"}}},
    {"mark":{"type":"text","style":"lgi","dx":-27,"dy":59.5,"lineHeight":13.5},"encoding":{"text":{"field":"b","type":"nominal"}}}
   ]}
  ]},
  {"width":120,"height":203,"layer":[
   {"data":{"values":[{"x":3.5}]},"mark":{"type":"rule","strokeDash":[4,3],"color":"#999999","strokeWidth":1.2},"encoding":{"x":{"field":"x","type":"quantitative","scale":{"domain":[0.5,6.5],"nice":false,"zero":false}},"y":{"datum":0,"scale":{"domain":[0,100],"nice":false,"zero":false}},"y2":{"datum":100}}},
   {"data":{"name":"bars"},"transform":[{"filter":"datum.p=='i'"}],"encoding":{"x":{"field":"x","type":"quantitative","scale":{"domain":[0.5,6.5],"nice":false,"zero":false},"axis":{"title":"Genotype","titlePadding":36.5}}},"layer":[
    {"mark":{"type":"bar","orient":"vertical","size":13,"stroke":"#4d4d4d","strokeWidth":1},"encoding":{"y":{"field":"v","type":"quantitative","scale":{"domain":[0,100],"nice":false,"zero":false},"axis":{"values":[0,20,40,60,80,100],"title":"Copulation within 1 h (%)","titlePadding":5}},"color":{"field":"c","type":"nominal","scale":{"domain":["g","b","r","lb","lp","pu","L","D","ln"],"range":["#d3d3d3","#0000ff","#ff0000","#c3c6ff","#ffdada","#7c2b93","#ffffff","#5e5e5e","#6b6b6b"]},"legend":null}}},
    {"transform":[{"filter":"datum.s=='NS'"}],"mark":{"type":"text","style":"ns"},"encoding":{"y":{"field":"hi","type":"quantitative","scale":{"domain":[0,100],"nice":false,"zero":false}},"text":{"field":"s","type":"nominal"}}},
    {"transform":[{"filter":"datum.s=='***'"}],"mark":{"type":"text","style":"star"},"encoding":{"y":{"field":"hi","type":"quantitative","scale":{"domain":[0,100],"nice":false,"zero":false}},"text":{"field":"s","type":"nominal"}}},
    {"mark":{"type":"text","style":"n2"},"encoding":{"y":{"datum":0,"scale":{"domain":[0,100],"nice":false,"zero":false}},"text":{"field":"n","type":"nominal"}}},
    {"mark":{"type":"text","style":"gx","dy":17},"encoding":{"y":{"datum":0,"scale":{"domain":[0,100],"nice":false,"zero":false}},"text":{"field":"gl","type":"nominal"}}}
   ]},
   {"data":{"values":[{"x":2,"t":"21 °C"},{"x":5,"t":"30 °C"}]},"mark":{"type":"text","style":"hdr","dy":-2.5},"encoding":{"x":{"field":"x","type":"quantitative","scale":{"domain":[0.5,6.5],"nice":false,"zero":false}},"y":{"datum":100,"scale":{"domain":[0,100],"nice":false,"zero":false}},"text":{"field":"t","type":"nominal"}}},
   {"data":{"values":[{"x":3.5,"t":"Re-mating"}]},"mark":{"type":"text","style":"hdr","dy":-30.5},"encoding":{"x":{"field":"x","type":"quantitative","scale":{"domain":[0.5,6.5],"nice":false,"zero":false}},"y":{"datum":100,"scale":{"domain":[0,100],"nice":false,"zero":false}},"text":{"field":"t","type":"nominal"}}},
   {"data":{"values":[{"t":"i"}]},"mark":{"type":"text","style":"let","dx":-53,"dy":-25},"encoding":{"x":{"datum":0.5,"scale":{"domain":[0.5,6.5],"nice":false,"zero":false}},"y":{"datum":100,"scale":{"domain":[0,100],"nice":false,"zero":false}},"text":{"field":"t","type":"nominal"}}},
   {"data":{"values":[{"a":["1 :","2 :","3 :"],"b":["UAS-dTrpA1","Mip-GAL4;Mip⁶·⁰-GAL80","Mip-GAL4/dTrpA1;Mip⁶·⁰-GAL80"]}]},"encoding":{"x":{"datum":0.5,"scale":{"domain":[0.5,6.5],"nice":false,"zero":false}},"y":{"datum":0,"scale":{"domain":[0,100],"nice":false,"zero":false}}},"layer":[
    {"mark":{"type":"text","style":"lg","dx":-47,"dy":59.5,"lineHeight":13.5},"encoding":{"text":{"field":"a","type":"nominal"}}},
    {"mark":{"type":"text","style":"lgi","dx":-32,"dy":59.5,"lineHeight":13.5},"encoding":{"text":{"field":"b","type":"nominal"}}}
   ]}
  ]}
 ], "spacing": 72, "bounds": "flush"},
 {"spacing": 8, "hconcat": [
  {"spacing": 20, "hconcat": [
   {"width":124,"height":200,"layer":[
    {"data":{"values":[{"x":3.5}]},"mark":{"type":"rule","strokeDash":[4,3],"color":"#999999","strokeWidth":1.2},"encoding":{"x":{"field":"x","type":"quantitative","scale":{"domain":[0.5,6.5],"nice":false,"zero":false}},"y":{"datum":0,"scale":{"domain":[0,1],"nice":false,"zero":false}},"y2":{"datum":1}}},
    {"data":{"values":[{"y":0,"t":"0.0"},{"y":0.2,"t":"0.2"},{"y":0.4,"t":"0.4"},{"y":0.6,"t":"0.6"},{"y":0.8,"t":"0.8"},{"y":1,"t":"1.0"}]},"mark":{"type":"text","style":"yl"},"encoding":{"x":{"datum":0.5,"scale":{"domain":[0.5,6.5],"nice":false,"zero":false}},"y":{"field":"y","type":"quantitative","scale":{"domain":[0,1],"nice":false,"zero":false}},"text":{"field":"t","type":"nominal"}}},
    {"data":{"name":"bars"},"transform":[{"filter":"datum.p=='j'"}],"encoding":{"x":{"field":"x","type":"quantitative","scale":{"domain":[0.5,6.5],"nice":false,"zero":false},"axis":{"title":"Genotype","titlePadding":32}}},"layer":[
     {"mark":{"type":"rule","color":"#444444","strokeWidth":1.2},"encoding":{"y":{"field":"v","type":"quantitative","scale":{"domain":[0,1],"nice":false,"zero":false}},"y2":{"field":"hi"}}},
     {"mark":{"type":"tick","orient":"horizontal","size":8,"thickness":1.2,"color":"#444444"},"encoding":{"y":{"field":"hi","type":"quantitative","scale":{"domain":[0,1],"nice":false,"zero":false}}}},
     {"mark":{"type":"bar","orient":"vertical","size":13,"stroke":"#4d4d4d","strokeWidth":1},"encoding":{"y":{"field":"v","type":"quantitative","scale":{"domain":[0,1],"nice":false,"zero":false},"axis":{"values":[0,0.2,0.4,0.6,0.8,1],"labels":false,"title":"Ovipositor extrusions per min","titlePadding":29.5,"titleFontSize":14.5}},"color":{"field":"c","type":"nominal","scale":{"domain":["g","b","r","lb","lp","pu","L","D","ln"],"range":["#d3d3d3","#0000ff","#ff0000","#c3c6ff","#ffdada","#7c2b93","#ffffff","#5e5e5e","#6b6b6b"]},"legend":null}}},
     {"transform":[{"filter":"datum.s=='NS'"}],"mark":{"type":"text","style":"ns"},"encoding":{"y":{"field":"hi","type":"quantitative","scale":{"domain":[0,1],"nice":false,"zero":false}},"text":{"field":"s","type":"nominal"}}},
     {"transform":[{"filter":"datum.s=='***'"}],"mark":{"type":"text","style":"star"},"encoding":{"y":{"field":"hi","type":"quantitative","scale":{"domain":[0,1],"nice":false,"zero":false}},"text":{"field":"s","type":"nominal"}}},
     {"mark":{"type":"text","style":"n3"},"encoding":{"y":{"datum":0,"scale":{"domain":[0,1],"nice":false,"zero":false}},"text":{"field":"n","type":"nominal"}}},
     {"mark":{"type":"text","style":"gx","dy":15},"encoding":{"y":{"datum":0,"scale":{"domain":[0,1],"nice":false,"zero":false}},"text":{"field":"gl","type":"nominal"}}}
    ]},
    {"data":{"values":[{"x":2,"t":"21 °C"},{"x":5,"t":"30 °C"}]},"mark":{"type":"text","style":"hdr","dy":-19},"encoding":{"x":{"field":"x","type":"quantitative","scale":{"domain":[0.5,6.5],"nice":false,"zero":false}},"y":{"datum":1,"scale":{"domain":[0,1],"nice":false,"zero":false}},"text":{"field":"t","type":"nominal"}}},
    {"data":{"values":[{"x":3.5,"t":"Virgin"}]},"mark":{"type":"text","style":"hdr","dy":-41},"encoding":{"x":{"field":"x","type":"quantitative","scale":{"domain":[0.5,6.5],"nice":false,"zero":false}},"y":{"datum":1,"scale":{"domain":[0,1],"nice":false,"zero":false}},"text":{"field":"t","type":"nominal"}}},
    {"data":{"values":[{"t":"j"}]},"mark":{"type":"text","style":"let","dx":-46,"dy":-44},"encoding":{"x":{"datum":0.5,"scale":{"domain":[0.5,6.5],"nice":false,"zero":false}},"y":{"datum":1,"scale":{"domain":[0,1],"nice":false,"zero":false}},"text":{"field":"t","type":"nominal"}}},
    {"data":{"values":[{"a":["1 :","2 :","3 :"],"b":["UAS-Shiᵗˢ","Mip-GAL4;Mip⁶·⁰-GAL80","Mip-GAL4/Shiᵗˢ;Mip⁶·⁰-GAL80"]}]},"encoding":{"x":{"datum":0.5,"scale":{"domain":[0.5,6.5],"nice":false,"zero":false}},"y":{"datum":0,"scale":{"domain":[0,1],"nice":false,"zero":false}}},"layer":[
     {"mark":{"type":"text","style":"lg","dx":-46,"dy":62.5,"lineHeight":14.5},"encoding":{"text":{"field":"a","type":"nominal"}}},
     {"mark":{"type":"text","style":"lgi","dx":-31,"dy":62.5,"lineHeight":14.5},"encoding":{"text":{"field":"b","type":"nominal"}}}
    ]}
   ]},
   {"width":139,"height":200,"layer":[
    {"data":{"values":[{"x":3.5}]},"mark":{"type":"rule","strokeDash":[4,3],"color":"#999999","strokeWidth":1.2},"encoding":{"x":{"field":"x","type":"quantitative","scale":{"domain":[0.5,6.5],"nice":false,"zero":false}},"y":{"datum":0,"scale":{"domain":[0,5],"nice":false,"zero":false}},"y2":{"datum":5}}},
    {"data":{"values":[{"y":0,"t":"0"},{"y":1,"t":"1"},{"y":2,"t":"2"},{"y":3,"t":"3"},{"y":4,"t":"4"},{"y":5,"t":"5"}]},"mark":{"type":"text","style":"yl"},"encoding":{"x":{"datum":0.5,"scale":{"domain":[0.5,6.5],"nice":false,"zero":false}},"y":{"field":"y","type":"quantitative","scale":{"domain":[0,5],"nice":false,"zero":false}},"text":{"field":"t","type":"nominal"}}},
    {"data":{"name":"bars"},"transform":[{"filter":"datum.p=='k'"}],"encoding":{"x":{"field":"x","type":"quantitative","scale":{"domain":[0.5,6.5],"nice":false,"zero":false},"axis":{"title":"Genotype","titlePadding":32}}},"layer":[
     {"mark":{"type":"rule","color":"#444444","strokeWidth":1.2},"encoding":{"y":{"field":"v","type":"quantitative","scale":{"domain":[0,5],"nice":false,"zero":false}},"y2":{"field":"hi"}}},
     {"mark":{"type":"tick","orient":"horizontal","size":8,"thickness":1.2,"color":"#444444"},"encoding":{"y":{"field":"hi","type":"quantitative","scale":{"domain":[0,5],"nice":false,"zero":false}}}},
     {"mark":{"type":"bar","orient":"vertical","size":13,"stroke":"#4d4d4d","strokeWidth":1},"encoding":{"y":{"field":"v","type":"quantitative","scale":{"domain":[0,5],"nice":false,"zero":false},"axis":{"values":[0,1,2,3,4,5],"labels":false,"title":"Ovipositor extrusions per min","titlePadding":12.8,"titleFontSize":14.5}},"color":{"field":"c","type":"nominal","scale":{"domain":["g","b","r","lb","lp","pu","L","D","ln"],"range":["#d3d3d3","#0000ff","#ff0000","#c3c6ff","#ffdada","#7c2b93","#ffffff","#5e5e5e","#6b6b6b"]},"legend":null}}},
     {"transform":[{"filter":"datum.s=='NS'"}],"mark":{"type":"text","style":"ns"},"encoding":{"y":{"field":"hi","type":"quantitative","scale":{"domain":[0,5],"nice":false,"zero":false}},"text":{"field":"s","type":"nominal"}}},
     {"transform":[{"filter":"datum.s=='***'"}],"mark":{"type":"text","style":"star"},"encoding":{"y":{"field":"hi","type":"quantitative","scale":{"domain":[0,5],"nice":false,"zero":false}},"text":{"field":"s","type":"nominal"}}},
     {"mark":{"type":"text","style":"n3"},"encoding":{"y":{"datum":0,"scale":{"domain":[0,5],"nice":false,"zero":false}},"text":{"field":"n","type":"nominal"}}},
     {"mark":{"type":"text","style":"gx","dy":15},"encoding":{"y":{"datum":0,"scale":{"domain":[0,5],"nice":false,"zero":false}},"text":{"field":"gl","type":"nominal"}}}
    ]},
    {"data":{"values":[{"x":2,"t":"21 °C"},{"x":5,"t":"30 °C"}]},"mark":{"type":"text","style":"hdr","dy":-19},"encoding":{"x":{"field":"x","type":"quantitative","scale":{"domain":[0.5,6.5],"nice":false,"zero":false}},"y":{"datum":5,"scale":{"domain":[0,5],"nice":false,"zero":false}},"text":{"field":"t","type":"nominal"}}},
    {"data":{"values":[{"x":3.5,"t":"Mated female"}]},"mark":{"type":"text","style":"hdr","dy":-41},"encoding":{"x":{"field":"x","type":"quantitative","scale":{"domain":[0.5,6.5],"nice":false,"zero":false}},"y":{"datum":5,"scale":{"domain":[0,5],"nice":false,"zero":false}},"text":{"field":"t","type":"nominal"}}},
    {"data":{"values":[{"t":"k"}]},"mark":{"type":"text","style":"let","dx":-33,"dy":-44},"encoding":{"x":{"datum":0.5,"scale":{"domain":[0.5,6.5],"nice":false,"zero":false}},"y":{"datum":5,"scale":{"domain":[0,5],"nice":false,"zero":false}},"text":{"field":"t","type":"nominal"}}},
    {"data":{"values":[{"a":["1 :","2 :","3 :"],"b":["UAS-dTrpA1","Mip-GAL4;Mip⁶·⁰-GAL80","Mip-GAL4/dTrpA1;Mip⁶·⁰-GAL80"]}]},"encoding":{"x":{"datum":0.5,"scale":{"domain":[0.5,6.5],"nice":false,"zero":false}},"y":{"datum":0,"scale":{"domain":[0,5],"nice":false,"zero":false}}},"layer":[
     {"mark":{"type":"text","style":"lg","dx":-30,"dy":62.5,"lineHeight":14.5},"encoding":{"text":{"field":"a","type":"nominal"}}},
     {"mark":{"type":"text","style":"lgi","dx":-15,"dy":62.5,"lineHeight":14.5},"encoding":{"text":{"field":"b","type":"nominal"}}}
    ]}
   ]}
  ]},
  {"spacing": 2, "hconcat": [
   {"width":67,"height":200,"layer":[
    {"data":{"values":[{"y":0,"t":"0.0"},{"y":0.2,"t":"0.2"},{"y":0.4,"t":"0.4"},{"y":0.6,"t":"0.6"},{"y":0.8,"t":"0.8"},{"y":1,"t":"1.0"}]},"mark":{"type":"text","style":"yl"},"encoding":{"x":{"datum":0.5,"scale":{"domain":[0.5,3.5],"nice":false,"zero":false}},"y":{"field":"y","type":"quantitative","scale":{"domain":[0,1],"nice":false,"zero":false}},"text":{"field":"t","type":"nominal"}}},
    {"data":{"name":"bars"},"transform":[{"filter":"datum.p=='l'"}],"encoding":{"x":{"field":"x","type":"quantitative","scale":{"domain":[0.5,3.5],"nice":false,"zero":false},"axis":{"title":"Genotype","titlePadding":44.5}}},"layer":[
     {"mark":{"type":"rule","color":"#444444","strokeWidth":1.2},"encoding":{"y":{"field":"v","type":"quantitative","scale":{"domain":[0,1],"nice":false,"zero":false}},"y2":{"field":"hi"}}},
     {"mark":{"type":"tick","orient":"horizontal","size":8,"thickness":1.2,"color":"#444444"},"encoding":{"y":{"field":"hi","type":"quantitative","scale":{"domain":[0,1],"nice":false,"zero":false}}}},
     {"mark":{"type":"bar","orient":"vertical","size":13,"stroke":"#4d4d4d","strokeWidth":1},"encoding":{"y":{"field":"v","type":"quantitative","scale":{"domain":[0,1],"nice":false,"zero":false},"axis":{"values":[0,0.2,0.4,0.6,0.8,1],"labels":false,"title":"Ovipositor extrusions per min","titlePadding":27.5,"titleFontSize":14.5}},"color":{"field":"c","type":"nominal","scale":{"domain":["g","b","r","lb","lp","pu","L","D","ln"],"range":["#d3d3d3","#0000ff","#ff0000","#c3c6ff","#ffdada","#7c2b93","#ffffff","#5e5e5e","#6b6b6b"]},"legend":null}}},
     {"transform":[{"filter":"datum.s=='***'"}],"mark":{"type":"text","style":"star"},"encoding":{"y":{"field":"hi","type":"quantitative","scale":{"domain":[0,1],"nice":false,"zero":false}},"text":{"field":"s","type":"nominal"}}},
     {"mark":{"type":"text","style":"n3"},"encoding":{"y":{"datum":0,"scale":{"domain":[0,1],"nice":false,"zero":false}},"text":{"field":"n","type":"nominal"}}},
     {"mark":{"type":"text","style":"gx","dy":15,"lineHeight":13},"encoding":{"y":{"datum":0,"scale":{"domain":[0,1],"nice":false,"zero":false}},"text":{"field":"gl","type":"nominal"}}}
    ]},
    {"data":{"values":[{"x":2,"t":"30 °C"}]},"mark":{"type":"text","style":"hdr","dy":-19},"encoding":{"x":{"field":"x","type":"quantitative","scale":{"domain":[0.5,3.5],"nice":false,"zero":false}},"y":{"datum":1,"scale":{"domain":[0,1],"nice":false,"zero":false}},"text":{"field":"t","type":"nominal"}}},
    {"data":{"values":[{"x":2,"t":"Virgin"}]},"mark":{"type":"text","style":"hdr","dy":-41},"encoding":{"x":{"field":"x","type":"quantitative","scale":{"domain":[0.5,3.5],"nice":false,"zero":false}},"y":{"datum":1,"scale":{"domain":[0,1],"nice":false,"zero":false}},"text":{"field":"t","type":"nominal"}}},
    {"data":{"values":[{"t":"l"}]},"mark":{"type":"text","style":"let","dx":-88,"dy":-44},"encoding":{"x":{"datum":0.5,"scale":{"domain":[0.5,3.5],"nice":false,"zero":false}},"y":{"datum":1,"scale":{"domain":[0,1],"nice":false,"zero":false}},"text":{"field":"t","type":"nominal"}}},
    {"data":{"values":[{"t":["☿","♂"]}]},"mark":{"type":"text","font":"DejaVu Sans","fontSize":11,"align":"center","baseline":"top","dx":-12,"dy":15,"lineHeight":13},"encoding":{"x":{"datum":0.5,"scale":{"domain":[0.5,3.5],"nice":false,"zero":false}},"y":{"datum":0,"scale":{"domain":[0,1],"nice":false,"zero":false}},"text":{"field":"t","type":"nominal"}}},
    {"data":{"values":[{"a":["1 :","2 :","3 :","4 : Female alone"],"b":["Mip-GAL4/Shiᵗˢ;Mip⁶·⁰-GAL80","Fruᶠ/+","Fruᶠ/Fruᶠ",""]}]},"encoding":{"x":{"datum":0.5,"scale":{"domain":[0.5,3.5],"nice":false,"zero":false}},"y":{"datum":0,"scale":{"domain":[0,1],"nice":false,"zero":false}}},"layer":[
     {"mark":{"type":"text","style":"lg","dx":-80,"dy":62.5,"lineHeight":13.7},"encoding":{"text":{"field":"a","type":"nominal"}}},
     {"mark":{"type":"text","style":"lgi","dx":-65,"dy":62.5,"lineHeight":13.7},"encoding":{"text":{"field":"b","type":"nominal"}}}
    ]}
   ]},
   {"width":177,"height":200,"layer":[
    {"data":{"values":[{"x":4.5}]},"mark":{"type":"rule","strokeDash":[4,3],"color":"#999999","strokeWidth":1.2},"encoding":{"x":{"field":"x","type":"quantitative","scale":{"domain":[0.5,8.5],"nice":false,"zero":false}},"y":{"datum":0,"scale":{"domain":[0,104],"nice":false,"zero":false}},"y2":{"datum":100}}},
    {"data":{"values":[{"x":0.5}]},"mark":{"type":"rule","color":"#444444","strokeWidth":1.3},"encoding":{"x":{"field":"x","type":"quantitative","scale":{"domain":[0.5,8.5],"nice":false,"zero":false}},"y":{"datum":0,"scale":{"domain":[0,104],"nice":false,"zero":false}},"y2":{"datum":100}}},
    {"data":{"values":[{"y":0,"t":"0"},{"y":20,"t":"20"},{"y":40,"t":"40"},{"y":60,"t":"60"},{"y":80,"t":"80"},{"y":100,"t":"100"}]},"mark":{"type":"text","style":"yl","fontSize":13.5,"dx":-5},"encoding":{"x":{"datum":0.5,"scale":{"domain":[0.5,8.5],"nice":false,"zero":false}},"y":{"field":"y","type":"quantitative","scale":{"domain":[0,104],"nice":false,"zero":false}},"text":{"field":"t","type":"nominal"}}},
    {"data":{"name":"bars"},"transform":[{"filter":"datum.p=='m'"}],"encoding":{"x":{"field":"x","type":"quantitative","scale":{"domain":[0.5,8.5],"nice":false,"zero":false},"axis":{"title":"Genotype","titlePadding":32}}},"layer":[
     {"mark":{"type":"bar","orient":"vertical","size":13,"stroke":"#4d4d4d","strokeWidth":1},"encoding":{"y":{"field":"v","type":"quantitative","scale":{"domain":[0,104],"nice":false,"zero":false},"axis":{"values":[0,20,40,60,80,100],"labels":false,"domain":false,"title":"Copulation within 1 h (%)","titlePadding":25.5}},"color":{"field":"c","type":"nominal","scale":{"domain":["g","b","r","lb","lp","pu","L","D","ln"],"range":["#d3d3d3","#0000ff","#ff0000","#c3c6ff","#ffdada","#7c2b93","#ffffff","#5e5e5e","#6b6b6b"]},"legend":null}}},
     {"transform":[{"filter":"datum.s=='NS'"}],"mark":{"type":"text","style":"ns"},"encoding":{"y":{"field":"hi","type":"quantitative","scale":{"domain":[0,104],"nice":false,"zero":false}},"text":{"field":"s","type":"nominal"}}},
     {"transform":[{"filter":"datum.s=='***'"}],"mark":{"type":"text","style":"star"},"encoding":{"y":{"field":"hi","type":"quantitative","scale":{"domain":[0,104],"nice":false,"zero":false}},"text":{"field":"s","type":"nominal"}}},
     {"mark":{"type":"text","style":"n3"},"encoding":{"y":{"datum":0,"scale":{"domain":[0,104],"nice":false,"zero":false}},"text":{"field":"n","type":"nominal"}}},
     {"mark":{"type":"text","style":"gx","dy":15},"encoding":{"y":{"datum":0,"scale":{"domain":[0,104],"nice":false,"zero":false}},"text":{"field":"gl","type":"nominal"}}}
    ]},
    {"data":{"values":[{"x":1.5,"t":"Saline"},{"x":3.5,"t":"SP"},{"x":5.5,"t":"Saline"},{"x":7.5,"t":"SP"}]},"mark":{"type":"text","style":"hdr","dy":-24},"encoding":{"x":{"field":"x","type":"quantitative","scale":{"domain":[0.5,8.5],"nice":false,"zero":false}},"y":{"datum":100,"scale":{"domain":[0,104],"nice":false,"zero":false}},"text":{"field":"t","type":"nominal"}}},
    {"data":{"values":[{"x":0.6,"x2":2.4},{"x":2.6,"x2":4.4},{"x":4.6,"x2":6.4},{"x":6.6,"x2":8.4}]},"mark":{"type":"rule","color":"#333333","strokeWidth":1.2,"yOffset":-16},"encoding":{"x":{"field":"x","type":"quantitative","scale":{"domain":[0.5,8.5],"nice":false,"zero":false}},"x2":{"field":"x2"},"y":{"datum":100,"scale":{"domain":[0,104],"nice":false,"zero":false}}}},
    {"data":{"values":[{"x":2.5,"t":"21 °C"},{"x":6.5,"t":"30 °C"}]},"mark":{"type":"text","style":"hdr","dy":-47},"encoding":{"x":{"field":"x","type":"quantitative","scale":{"domain":[0.5,8.5],"nice":false,"zero":false}},"y":{"datum":100,"scale":{"domain":[0,104],"nice":false,"zero":false}},"text":{"field":"t","type":"nominal"}}},
    {"data":{"values":[{"x":4.5,"t":"Mating"}]},"mark":{"type":"text","style":"hdr","dy":-65},"encoding":{"x":{"field":"x","type":"quantitative","scale":{"domain":[0.5,8.5],"nice":false,"zero":false}},"y":{"datum":100,"scale":{"domain":[0,104],"nice":false,"zero":false}},"text":{"field":"t","type":"nominal"}}},
    {"data":{"values":[{"t":"m"}]},"mark":{"type":"text","style":"let","dx":-35,"dy":-55},"encoding":{"x":{"datum":0.5,"scale":{"domain":[0.5,8.5],"nice":false,"zero":false}},"y":{"datum":100,"scale":{"domain":[0,104],"nice":false,"zero":false}},"text":{"field":"t","type":"nominal"}}},
    {"data":{"values":[{"a":["1 :","2 :"],"b":["UAS-dTrpA1","Mip-GAL4/UAS-dTrpA1;Mip⁶·⁰-GAL80"]}]},"encoding":{"x":{"datum":0.5,"scale":{"domain":[0.5,8.5],"nice":false,"zero":false}},"y":{"datum":0,"scale":{"domain":[0,104],"nice":false,"zero":false}}},"layer":[
     {"mark":{"type":"text","style":"lg","fontSize":9.5,"dx":0,"dy":76,"lineHeight":16},"encoding":{"text":{"field":"a","type":"nominal"}}},
     {"mark":{"type":"text","style":"lgi","fontSize":9.5,"dx":14,"dy":76,"lineHeight":16},"encoding":{"text":{"field":"b","type":"nominal"}}}
    ]}
   ]}
  ]}
 ]}
 ]}
]
}
